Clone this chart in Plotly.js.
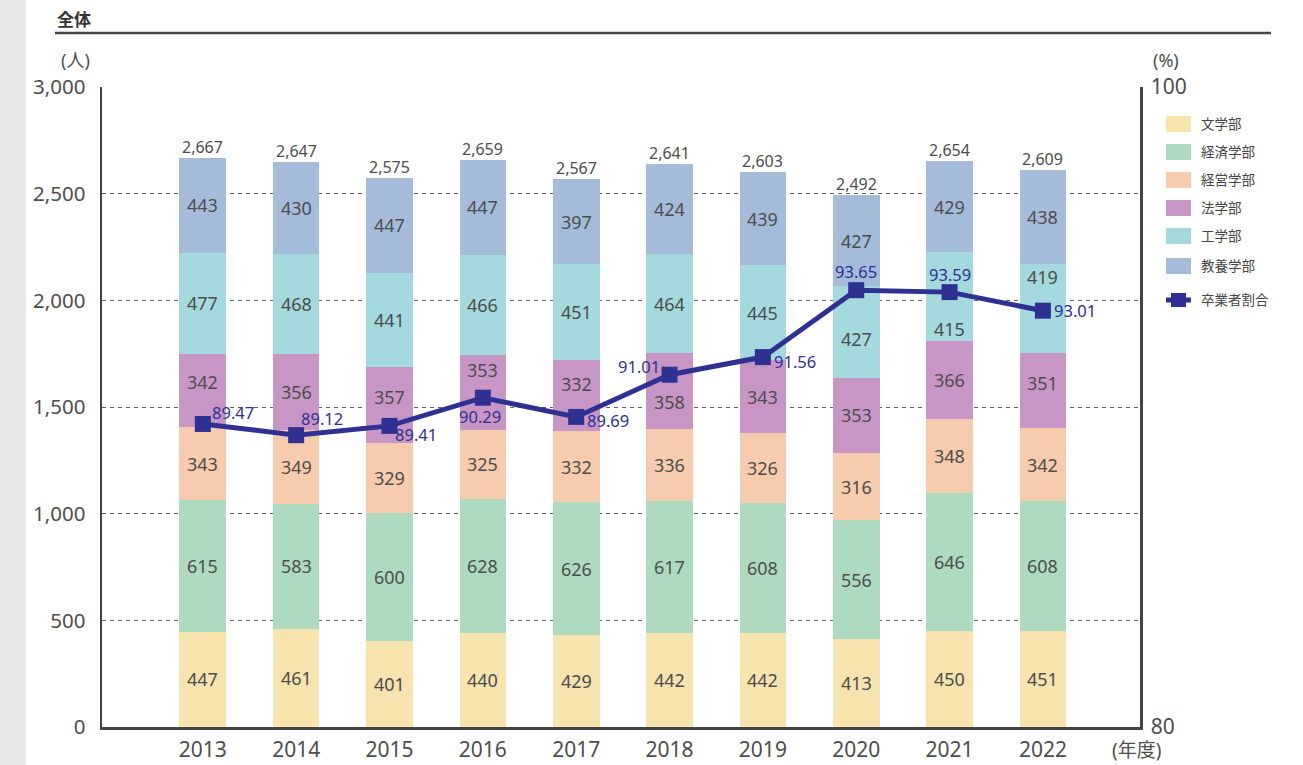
<!DOCTYPE html>
<html><head><meta charset="utf-8">
<script src="https://cdn.plot.ly/plotly-3.0.1.min.js"></script>
<style>html,body{margin:0;padding:0;background:#fff;}#chart{width:1303px;height:765px;}</style>
</head><body><div id="chart"></div>
<script>
const years = ["2013","2014","2015","2016","2017","2018","2019","2020","2021","2022"];
const bungaku = [447,461,401,440,429,442,442,413,450,451];
const keizai = [615,583,600,628,626,617,608,556,646,608];
const keiei = [343,349,329,325,332,336,326,316,348,342];
const hougaku = [342,356,357,353,332,358,343,353,366,351];
const kougaku = [477,468,441,466,451,464,445,427,415,419];
const kyouyou = [443,430,447,447,397,424,439,427,429,438];
const totals = [2667,2647,2575,2659,2567,2641,2603,2492,2654,2609];
const ratio = [89.47,89.12,89.41,90.29,89.69,91.01,91.56,93.65,93.59,93.01];
const seriesNames = ["文学部","経済学部","経営学部","法学部","工学部","教養学部"];
const lineName = "卒業者割合";

const series = [bungaku,keizai,keiei,hougaku,kougaku,kyouyou];
const colors = ["#F6E3AE","#AEDBBF","#F6CBAE","#C896C5","#A4D9DE","#A4BCD9"];
const lineColor = "#2E3192";
const txt = "#4d4d4d";
const FONT = "Noto Sans, Noto Sans CJK JP, sans-serif";

// plot area in pixels
const L=102, R=1140, T=87, B=727;
const pxX = x => (x-L)/(R-L);
const pxY = y => (B-y)/(B-T);

const traces = series.map((vals,i)=>({
  type:'bar', x:years, y:vals, name:seriesNames[i],
  marker:{color:colors[i], line:{width:0}}, width:0.5,
  hoverinfo:'y', showlegend:false
}));
traces.push({
  type:'scatter', mode:'lines+markers', x:years, y:ratio, yaxis:'y2', name:lineName,
  line:{color:lineColor, width:5}, marker:{symbol:'square', size:16, color:lineColor},
  showlegend:false, cliponaxis:false
});

const ann = [];
const A = o => Object.assign({showarrow:false, xanchor:'center', yanchor:'middle'}, o);
// segment label shifts (pixels) for series index 3 (法学部) and 4 (工学部)
const segShift = {
  3:[9,0,8,22,12,-11,0,0,0,8],
  4:[0,0,0,0,0,0,0,-7,-32,32]
};
years.forEach((yr,j)=>{
  let base=0;
  series.forEach((vals,i)=>{
    const v=vals[j];
    const sh = segShift[i]? segShift[i][j] : 0;
    ann.push(A({x:j, y:base+v/2, xref:'x', yref:'y', text:String(v),
      yshift:sh, font:{family:FONT,size:18,color:txt}}));
    base+=v;
  });
  ann.push(A({x:j, y:totals[j], xref:'x', yref:'y', text:totals[j].toLocaleString('en-US'),
    yanchor:'bottom', yshift:-2, font:{family:FONT,size:16,color:txt}}));
});
// line labels: [xshift, yshift, xanchor]
const lineLab = [[7,11,'left'],[3,17,'left'],[3,-9,'left'],[-3,-19,'center'],[9,-4,'left'],
  [-8,8,'right'],[9,-4,'left'],[0,19,'center'],[0,18,'center'],[9,0,'left']];
ratio.forEach((r,j)=>{
  const p=lineLab[j];
  ann.push(A({x:j, y:r, xref:'x', yref:'y2', text:r.toFixed(2),
    xshift:p[0], yshift:p[1], xanchor:p[2], font:{family:FONT,size:16.5,color:lineColor}}));
});
// axis unit labels
ann.push(A({xref:'paper',yref:'paper',x:pxX(75),y:pxY(60),text:'(人)',font:{family:FONT,size:18,color:txt}}));
ann.push(A({xref:'paper',yref:'paper',x:pxX(1166),y:pxY(60),text:'(%)',font:{family:FONT,size:18,color:txt}}));
ann.push(A({xref:'paper',yref:'paper',x:pxX(1136),y:pxY(750),text:'(年度)',font:{family:FONT,size:19,color:txt}}));
ann.push(A({xref:'paper',yref:'paper',x:pxX(55),y:pxY(19),xanchor:'left',text:'<b>全体</b>',font:{family:FONT,size:17,color:'#333'}}));

const shapes = [
  {type:'rect',xref:'paper',yref:'paper',x0:pxX(0),x1:pxX(26),y0:pxY(765),y1:pxY(0),fillcolor:'#E6E7E9',line:{width:0},layer:'below'},
  {type:'line',xref:'paper',yref:'paper',x0:pxX(55),x1:pxX(1271),y0:pxY(33),y1:pxY(33),line:{color:'#444',width:2.5}}
];
// legend
const legY = [124,152,180,208,236,266];
seriesNames.forEach((n,i)=>{
  shapes.push({type:'rect',xref:'paper',yref:'paper',x0:pxX(1166),x1:pxX(1191),y0:pxY(legY[i]+8),y1:pxY(legY[i]-8),fillcolor:colors[i],line:{width:0}});
  ann.push(A({xref:'paper',yref:'paper',x:pxX(1199),y:pxY(legY[i]),xanchor:'left',text:n,font:{family:FONT,size:13.5,color:'#444'}}));
});
shapes.push({type:'line',xref:'paper',yref:'paper',x0:pxX(1166),x1:pxX(1191),y0:pxY(300),y1:pxY(300),line:{color:lineColor,width:5}});
shapes.push({type:'rect',xref:'paper',yref:'paper',x0:pxX(1171),x1:pxX(1186),y0:pxY(307),y1:pxY(293),fillcolor:lineColor,line:{width:0}});
ann.push(A({xref:'paper',yref:'paper',x:pxX(1199),y:pxY(300),xanchor:'left',text:lineName,font:{family:FONT,size:13.5,color:'#444'}}));

const layout = {
  width:1303, height:765,
  margin:{l:L, r:1303-R, t:T, b:765-B},
  paper_bgcolor:'#fff', plot_bgcolor:'#fff',
  barmode:'stack', showlegend:false,
  font:{family:FONT, color:txt},
  xaxis:{type:'category', range:[-1.08,10.04], showgrid:false, showline:true, linecolor:'#444', linewidth:2.5,
    ticks:'', tickfont:{size:21,color:txt}, ticklabelstandoff:2, zeroline:false},
  yaxis:{range:[0,3000], tickvals:[0,500,1000,1500,2000,2500,3000], tickformat:',d',
    showgrid:true, gridcolor:'#666', gridwidth:1, griddash:'4px,4px',
    showline:true, linecolor:'#444', linewidth:2.5, ticks:'', ticklabelstandoff:10,
    tickfont:{size:20.5,color:txt}, zeroline:false},
  yaxis2:{range:[80,100], overlaying:'y', side:'right', tickvals:[80,100], showgrid:false,
    showline:true, linecolor:'#444', linewidth:2.5, ticks:'', ticklabelstandoff:4,
    tickfont:{size:21,color:txt}, zeroline:false},
  annotations:ann, shapes:shapes
};
Plotly.newPlot('chart', traces, layout, {displayModeBar:false, staticPlot:true});
</script></body></html>
